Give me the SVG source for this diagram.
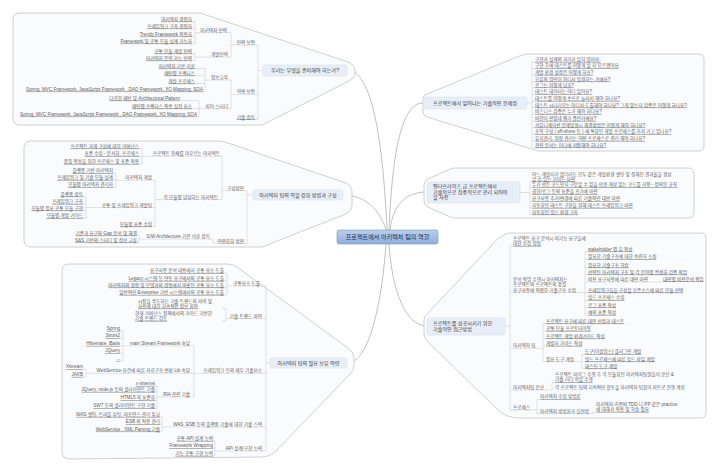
<svg xmlns="http://www.w3.org/2000/svg" width="720" height="473" viewBox="0 0 720 473">
<defs>
<style>
.t{font-family:"Liberation Sans","Noto Sans CJK KR",sans-serif;font-size:4.6px;fill:#5c5c5c}
.e{text-anchor:end}
.u{text-decoration:underline;text-decoration-color:#cfcfcf}
.ln{stroke:#c6c6c6;stroke-width:0.5;fill:none}
.cont{fill:#fafbfd;stroke:#c4c4c4;stroke-width:0.8}
.box{fill:#e7eef8;stroke:#d2dcea;stroke-width:0.5}
.bt{font-family:"Liberation Sans","Noto Sans CJK KR",sans-serif;font-size:5.1px;fill:#3a3a3a}
.cc{stroke:#b0b0b0;stroke-width:0.8;fill:none}
</style>
<linearGradient id="cg" x1="0" y1="0" x2="0" y2="1">
<stop offset="0" stop-color="#bccfec"/>
<stop offset="1" stop-color="#8eadda"/>
</linearGradient>
<marker id="ah" viewBox="0 0 6 6" refX="5" refY="3" markerWidth="5" markerHeight="5" orient="auto">
<path d="M0,0 L6,3 L0,6 Z" fill="#d42a2a"/>
</marker>
</defs>
<rect width="720" height="473" fill="#ffffff"/>

<g id="connectors">
<path class="cc" d="M347,70 C372,70 383,140 387,230"/>
<path class="cc" d="M423,103 C400,103 392,160 389,230"/>
<path class="cc" d="M343,195 C365,195 380,210 386,230"/>
<path class="cc" d="M427,192 C405,192 393,205 390,230"/>
<path class="cc" d="M347,363 C370,363 382,300 386,244"/>
<path class="cc" d="M427,326 C405,326 392,290 389,244"/>
<path d="M258,117.5 C283,113 285,98 260,96" fill="none" stroke="#d42a2a" stroke-width="0.8" stroke-dasharray="1.5,1" marker-end="url(#ah)"/>
</g>

<g id="center">
<rect x="337" y="230" width="101" height="14" rx="2" fill="url(#cg)" stroke="#7394c6" stroke-width="0.6"/>
<text x="387.5" y="239.3" text-anchor="middle" style="font-family:'Liberation Sans','Noto Sans CJK KR',sans-serif;font-size:6.1px;fill:#1e2d4d">프로젝트에서 아키텍처 팀의 역할</text>
</g>

<g id="branch-prepare">
<path class="cont" d="M20,13 H200 L348,62 Q355,65 355,71 V74 Q355,78 349,81 L262,125 H20 Q13,125 13,118 V20 Q13,13 20,13 Z"/>
<path class="ln" d="M192,21.6H195M192,28.6H195M192,36.6H195M192,43.6H195M195,21.6V43.6M195,32.6H231M192,53.6H195M192,60.6H195M195,53.6V60.6M195,57.1H231M231,32.6V57.1M231,45H258M195,68.6H205M195,75.6H205M195,83.6H205M203,91.6H205M205,68.6V91.6M205,80.1H231M180,100.6H199M192,108.6H199M197,116.6H199M199,100.6V116.6M199,108.6H231M231,80.1V108.6M231,94.4H258M255,119.5H258M258,45V119.5M258,70.5H263"/>
<text class="t e u" x="192" y="20.6">아키텍처 경험자</text>
<text class="t e u" x="192" y="27.6">프레임워크 구축 경험자</text>
<text class="t e u" x="192" y="35.6">Trendy Framework 적용자</text>
<text class="t e u" x="192" y="42.6">Framework 및 공통 모듈 설계 가능자</text>
<text class="t e" x="227" y="31.6">아키텍처 인력</text>
<text class="t e u" x="192" y="52.6">공통 모듈 개발 인력</text>
<text class="t e u" x="192" y="59.6">아키텍처 운영 가능 인력</text>
<text class="t e" x="228" y="56.1">개발인력</text>
<text class="t e" x="255" y="44">인력 보완</text>
<text class="t e u" x="195" y="67.6">아키텍처 기본 이론</text>
<text class="t e u" x="195" y="74.6">패턴별 프랙티스</text>
<text class="t e u" x="195" y="82.6">개발 프로세스</text>
<text class="t e u" x="203" y="90.6">Spring, MVC Framework, JavaScript Framework , DAO Framework, XO Mapping, SOA</text>
<text class="t e" x="228" y="79.1">정보교육</text>
<text class="t e u" x="180" y="99.6">다양한 패턴 및 Architectural Pattern</text>
<text class="t e u" x="192" y="107.6">패턴별 프랙티스 적용 실천 요소</text>
<text class="t e u" x="197" y="115.6">Spring, MVC Framework, JavaScript Framework , DAO Framework, XO Mapping, SOA</text>
<text class="t e" x="228" y="107.6">피어 스터디</text>
<text class="t e" x="255" y="93.4">역량 보완</text>
<text class="t e u" x="255" y="118.5">기술 습득</text>
<rect class="box" x="263" y="65" width="84" height="11" rx="2"/>
<text class="bt" x="305" y="72.3" text-anchor="middle">우리는 무엇을 준비해야 하는가?</text>
</g>

<g id="branch-problems">
<path class="cont" d="M427,94 L522,55 Q524,54 528,54 H699 Q704,54 704,59 V146 Q704,151 699,151 H538 L427,117 Q423,116 423,112 V98 Q423,95 427,94 Z"/>
<path class="ln" d="M527,103H532M532,61.9V147.6M532,61.9H535M532,68.3H535M532,74.9H535M532,81.6H535M532,87.6H535M532,94.3H535M532,100.9H535M532,107.6H535M532,114.3H535M532,120.9H535M532,127.6H535M532,134.3H535M532,140.9H535M532,147.6H535"/>
<rect class="box" x="423" y="97" width="104" height="12" rx="2"/>
<text class="bt" x="475" y="105" text-anchor="middle">프로젝트에서 일어나는 기술적인 문제점</text>
<text class="t u" x="535" y="60.9">구현과 설계의 괴리가 있지 않아요.</text>
<text class="t u" x="535" y="67.3">구현 후에 테스트를 어떻게 할 지 모르겠어요</text>
<text class="t u" x="535" y="73.9">개발 환경 설정은 어떻게 하죠?</text>
<text class="t u" x="535" y="80.6">오류의 원인이 어디서 발생하는 거예요?</text>
<text class="t u" x="535" y="86.6">로그는 어떻게 남죠?</text>
<text class="t u" x="535" y="93.3">테스트 데이터는 어디 있어요?</text>
<text class="t u" x="535" y="99.9">테스트를 어떻게 손으로 눌러서 해야 하나요?</text>
<text class="t u" x="535" y="106.6">테스트 시나리오는 어디서 도출해야 하나요? 그게 맞는지 검증은 어떻게 하나요?</text>
<text class="t u" x="535" y="113.3">비즈니스 검증은 누가 해야 하나요?</text>
<text class="t u" x="535" y="119.9">버전이 안맞네 뭐가 틀린거예요?</text>
<text class="t u" x="535" y="126.6">커뮤니케이션 문제발생시 해결방법은 어떻게 해야 하나요?</text>
<text class="t u" x="535" y="133.3">조직 구성 ( off-shore 등 ) 에 특화된 개발 프로세스를 가져 가고 있나요?</text>
<text class="t u" x="535" y="139.9">유지관리, 위험 관리는 어떤 프로세스로 관리 해야 하나요?</text>
<text class="t u" x="535" y="146.6">관련 문서는 어디에 저장해야 하나요?</text>
</g>

<g id="branch-enterprise">
<path class="cont" d="M428,179 L450,169 Q452,168 456,168 H688 Q694,168 694,174 V212 Q694,218 688,218 H456 Q452,218 450,217 L428,207 Q424,205 424,201 V185 Q424,181 428,179 Z"/>
<path class="ln" d="M520,192.5H530M530,181.5V214.6M530,181.5H532M530,187.3H532M530,194.3H532M530,201.3H532M530,207.9H532M530,214.6H532"/>
<rect class="box" x="427" y="182" width="93" height="21" rx="2"/>
<text class="bt" x="433" y="188">엔터프라이즈 급 프로젝트에서</text>
<text class="bt" x="433" y="193.6">기술적으로 집중적으로 관리 되어야</text>
<text class="bt" x="433" y="199.2">할 사항</text>
<text class="t" x="532" y="175.5">어느 개발자가 맡더라도 모두 같은 개발환경 셋팅 및 정해진 결과물을 생성</text>
<text class="t u" x="532" y="180.5">할 수 있는 가이드 마련</text>
<text class="t u" x="532" y="186.3">누가 만든 코드인지 구분할 수 없을 만큼 개성 없는 코드를 지향 - 정의된 규칙</text>
<text class="t u" x="532" y="193.3">권한/로그 등의 표준을 초기에 마련</text>
<text class="t u" x="532" y="200.3">요구사항 추가/변경에 따른 기술적인 대안 마련</text>
<text class="t u" x="532" y="206.9">자동화된 테스트 구현을 위해 테스트 프레임워크 마련</text>
<text class="t u" x="532" y="213.6">자동화된 빌드 환경 구축</text>
</g>

<g id="branch-approach">
<path class="cont" d="M427,314 L490,247 Q497,237 509,233 H701 Q706,233 706,238 V413 Q706,418 701,418 H520 Q506,418 498,410 L428,342 Q424,338 424,334 V320 Q424,316 427,314 Z"/>
<path class="ln" d="M505,326H510M510,245.9V409.9M510,245.9H513M510,292.6H585M585,251.6V314.9M585,251.6H588M585,259.3H588M585,267.6H588M585,274.6H588M585,282H663M585,292.6H588M585,300.3H588M585,307.6H588M585,314.9H588M510,348.3H543M543,323.6V361.6M543,323.6H546M543,330.9H546M543,338.6H546M543,345.9H546M543,361.6H582M582,354.3V368.6M582,354.3H585M582,368.6H585M510,389.9H552M552,382.3V389.9M552,382.3H555M510,409.9H537M537,399.3V413.6M537,399.3H540M537,413.6H593M593,411.9V413.6M593,411.9H596"/>
<rect class="box" x="427" y="318" width="78" height="17" rx="2"/>
<text class="bt" x="433" y="325">프로젝트를 성공시키기 위한</text>
<text class="bt" x="433" y="331">기술적인 접근방법</text>
<text class="t" x="513" y="239.9">프로젝트 요구 분석시 비기능 요구들에</text>
<text class="t u" x="513" y="244.9">대한 수집 정립</text>
<text class="t" x="513" y="280.6">분석 작업 수행시 아키텍처는</text>
<text class="t" x="513" y="286.1">프로젝트의 프로젝트의 품질</text>
<text class="t" x="513" y="291.6">요구사항에 적합한 기술구조 수립</text>
<text class="t u" x="588" y="250.6">stakeholder 별 뷰 작성</text>
<text class="t u" x="588" y="258.3">필요한 기술구조에 대한 숙련자 소싱</text>
<text class="t u" x="588" y="266.6">필요한 기술구조 학습</text>
<text class="t u" x="588" y="273.6">선택된 아키텍처 구조 및 각 분야별 컨셉화 검증 작업</text>
<text class="t" x="588" y="281">비용 요구사항에 따른 대안 마련</text>
<text class="t u" x="663" y="280.5">대안별 비용분석 작업</text>
<text class="t u" x="588" y="291.6">프레임워크들을 구성할 오픈소스에 따른 모듈 선택</text>
<text class="t u" x="588" y="299.3">빌드 프로세스 수립</text>
<text class="t u" x="588" y="306.6">로그 표준 작성</text>
<text class="t u" x="588" y="313.9">예외 표준 작성</text>
<text class="t" x="513" y="347.3">아키텍처 팀</text>
<text class="t u" x="546" y="322.6">프로젝트 요구에 따른 대안 선정과 테스트</text>
<text class="t u" x="546" y="329.9">공통 모듈 프로토타이핑</text>
<text class="t u" x="546" y="337.6">프로젝트 개발 환경가이드 작성</text>
<text class="t u" x="546" y="344.9">개발자 가이드 작성</text>
<text class="t" x="546" y="360.6">필요 도구 개발</text>
<text class="t u" x="585" y="353.3">도구(이클립스) 플러그인 개발</text>
<text class="t u" x="585" y="360.6">빌드 프로세스에 따른 빌드 파일 개발</text>
<text class="t u" x="585" y="367.6">테스팅 도구 개발</text>
<text class="t" x="513" y="388.9">아키텍처팀 분산</text>
<text class="t" x="555" y="376.3">프로젝트 마이그 수행 후 각 모듈화된 아키텍처팀원들이 분산 &amp;</text>
<text class="t u" x="555" y="381.3">기술 리더 역할 수행</text>
<text class="t" x="555" y="388.9">각 프로젝트 팀의 지속적인 활동을 아키텍처 팀원이 파트로 진행 계획</text>
<text class="t" x="513" y="408.9">프로세스</text>
<text class="t u" x="540" y="398.3">아키텍처 수립 방법론</text>
<text class="t" x="540" y="412.6">아키텍처 방법론과 실천법</text>
<text class="t" x="596" y="405.9">아키텍처 측면의 TDD 나 PP 같은 practice</text>
<text class="t u" x="596" y="410.9">에 대해서 적용 및 학습 필요</text>
</g>

<g id="branch-team">
<path class="cont" d="M31,141 H215 Q222,141 228,143 L346,183 Q352,186 352,192 V206 Q352,211 346,214 L262,247 H31 Q24,247 24,240 V148 Q24,141 31,141 Z"/>
<path class="ln" d="M139,148.6H142M139,156.3H142M139,163.9H142M142,148.6V163.9M142,156.3H222M113,173.3H116M113,179.9H116M113,187.3H116M116,173.3V187.3M116,180.3H155M83,196.6H86M83,203.9H86M83,210.6H86M83,218.3H86M86,196.6V218.3M86,207.5H155M152,226.6H155M155,180.3V226.6M155,199.5H222M222,156.3V199.5M222,190.5H247M137,235.6H139M137,242.6H139M139,235.6V242.6M139,239.1H213M213,239.1V243.5M213,243.5H247M247,190.5V243.5M247,195H253"/>
<rect class="box" x="253" y="190" width="90" height="10" rx="2"/>
<text class="bt" x="298" y="196.8" text-anchor="middle">아키텍처 팀의 역할 강화 방법과 구성</text>
<text class="t e u" x="139" y="147.6">프로젝트 과제 구성에 대한 거버넌스</text>
<text class="t e u" x="139" y="155.3">표준 수립 - 문서화, 프로세스</text>
<text class="t e u" x="139" y="162.9">품질 향상을 위한 프로세스 및 표준 적용</text>
<text class="t e" x="220" y="155.3">프로젝트 전체를 아우르는 아키텍트</text>
<text class="t e u" x="113" y="172.3">플랫폼 기반 아키텍처</text>
<text class="t e u" x="113" y="178.9">프레임워크 및 기술 모듈 설계</text>
<text class="t e u" x="113" y="186.3">모듈별 아키텍처 관리자</text>
<text class="t e" x="152" y="179.3">아키텍처 개발</text>
<text class="t e u" x="83" y="195.6">플랫폼 습득</text>
<text class="t e u" x="83" y="202.9">프레임워크 구축</text>
<text class="t e u" x="83" y="209.6">모듈별 필요 공통 모듈 구현</text>
<text class="t e u" x="83" y="217.3">모듈별 개발 가이드</text>
<text class="t e" x="152" y="206.5">공통 및 프레임워크 개발팀</text>
<text class="t e u" x="152" y="225.6">모듈별 표준 수립</text>
<text class="t e" x="218" y="198.5">각 모듈별 담당하는 아키텍트</text>
<text class="t e" x="244" y="189.5">구성방안</text>
<text class="t e u" x="137" y="234.6">기존과 요구의 Gap 분석 및 해결</text>
<text class="t e u" x="137" y="241.6">S&amp;S 기반의 스터디 및 정보 교류</text>
<text class="t e" x="210" y="238.1">S/W Architecture 기본 이론 습득</text>
<text class="t e" x="244" y="242.5">역량강화 방안</text>
</g>

<g id="branch-competence">
<path class="cont" d="M69,264 H228 Q233,264 237,267 L348,348 Q354,352 354,358 V366 Q354,370 351,373 L277,450 Q270,457 262,457 L69,459 Q62,459 62,452 V271 Q62,264 69,264 Z"/>
<path class="ln" d="M224,273.3H227M224,280.9H227M224,287.6H227M224,294.9H227M227,273.3V294.9M227,286H266M222,308.6H226M222,320.9H226M226,308.6V320.9M226,318.6H266M120,330.9H123M120,338.3H123M120,345.9H123M120,353.3H123M120,360.9H123M123,330.9V360.9M123,345.9H194M83,369.3H86M83,376.9H86M86,369.3V376.9M86,373.3H266M155,385.9H157M155,391.9H157M155,400.3H157M155,408.3H157M157,385.9V408.3M157,396.9H194M194,345.9V396.9M160,416.9H162M160,424.3H162M160,431.6H162M162,416.9V431.6M162,427H266M213,440.9H215M213,448.3H215M213,455.9H215M215,440.9V455.9M215,451H266M266,286V451M266,363H270"/>
<rect class="box" x="270" y="358" width="77" height="10" rx="2"/>
<text class="bt" x="308.5" y="364.8" text-anchor="middle">아키텍처 팀의 필요 보유 역량</text>
<text class="t e u" x="224" y="272.3">요구사항 분석 내용에서 공통 요소 도출</text>
<text class="t e u" x="224" y="279.9">Legacy 시스템 등 연동 요구에서의 공통 요소 도출</text>
<text class="t e u" x="224" y="286.6">아키텍처의 경험 및 모델과의 경험에서 비롯된 공통 요소 도출</text>
<text class="t e u" x="224" y="293.9">일반적인 Enterprise 기반 시스템에서의 공통 요소 도출</text>
<text class="t e" x="260" y="285">공통요소 도출</text>
<text class="t" x="138" y="303.3">시장을 주도하는 기술 트렌드의 파악 및</text>
<text class="t u" x="138" y="307.6">사용에 대한 지속적인 정보 파악</text>
<text class="t" x="135" y="314.9">현재 거버넌스 정책에서의 가이드 기반한</text>
<text class="t u" x="135" y="319.9">기술 트렌드 검토</text>
<text class="t e" x="262" y="317.6">기술 트렌드 파악</text>
<text class="t e u" x="120" y="329.9">Spring</text>
<text class="t e u" x="120" y="337.3">Struts2</text>
<text class="t e u" x="120" y="344.9">Hibernate, iBatis</text>
<text class="t e u" x="120" y="352.3">JQuery</text>
<text class="t e u" x="120" y="359.9">...</text>
<text class="t e" x="190" y="344.9">main Stream Framework 숙달</text>
<text class="t e u" x="83" y="368.3">Xstream</text>
<text class="t e u" x="83" y="375.9">JAXB</text>
<text class="t e" x="190" y="372.3">WebService 요건에 따른 자료구조 변환 Lib 숙달</text>
<text class="t e" x="262" y="372.3">프레임워크 등의 세부 기술요소</text>
<text class="t e u" x="155" y="384.9">x-internet</text>
<text class="t e u" x="155" y="390.9">JQuery, node.js 등의 클라이언트 기술</text>
<text class="t e u" x="155" y="399.3">HTML5 의 표준화</text>
<text class="t e u" x="155" y="407.3">SWT 등의 클라이언트 구현 기술</text>
<text class="t e" x="190" y="395.9">RIA 관련 기술</text>
<text class="t e u" x="160" y="415.9">WAS 셋팅, 트러블 슈팅, 퍼포먼스 관리 튜닝</text>
<text class="t e u" x="160" y="423.3">ESB 의 적용 관리</text>
<text class="t e u" x="160" y="430.6">WebService , XML Parsing 기술</text>
<text class="t e" x="262" y="426">WAS, ESB 등의 플랫폼 기술에 대한 기술 스택</text>
<text class="t e u" x="213" y="439.9">공통 API 설계 능력</text>
<text class="t e u" x="213" y="447.3">Framework Wrapping</text>
<text class="t e u" x="213" y="454.9">기능 공통 구현 능력</text>
<text class="t e" x="262" y="450">API 설계/구현 능력</text>
</g>
</svg>
